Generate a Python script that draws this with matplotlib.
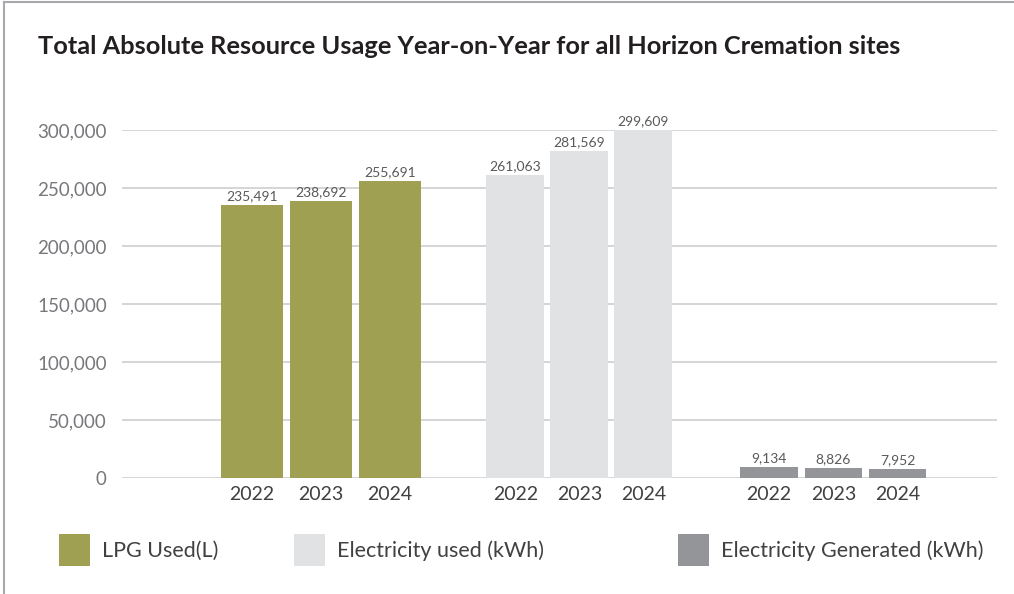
import matplotlib
matplotlib.use("Agg")
from matplotlib import pyplot as plt
from matplotlib.lines import Line2D
from matplotlib.patches import Patch

years = ["2022", "2023", "2024"]
series_names = ["LPG Used(L)", "Electricity used (kWh)", "Electricity Generated (kWh)"]
lpg_used = [235491, 238692, 255691]
electricity_used = [261063, 281569, 299609]
electricity_generated = [9134, 8826, 7952]
y_ticks = [0, 50000, 100000, 150000, 200000, 250000, 300000]

colors = ["#9fa052", "#e1e2e4", "#939598"]
plt.rcParams['font.family'] = ['Lato', 'DejaVu Sans']

fig = plt.figure(figsize=(10.14, 5.94), dpi=100)
ax = fig.add_axes([0.1203, 0.1953, 0.8629, 0.5859])

# layout of the three groups (middle-bar centre, bar spacing, bar width)
group_mid = [3.015, 6.93, 10.78]
bar_step = [1.045, 0.97, 0.975]
bar_width = [0.94, 0.88, 0.87]

tick_pos = []
tick_lab = []
for g, values in enumerate([lpg_used, electricity_used, electricity_generated]):
    xs = [group_mid[g] + (i - 1) * bar_step[g] for i in range(len(values))]
    bars = ax.bar(xs, values, width=bar_width[g], color=colors[g], zorder=3)
    for b, v in zip(bars, values):
        ax.annotate(f"{v:,}", (b.get_x() + b.get_width() / 2, v), xytext=(0, 2),
                    textcoords="offset points", ha="center", va="bottom",
                    fontsize=10, color="#58595b")
    tick_pos += xs
    tick_lab += years

ax.set_xlim(0, 13.26)
ax.set_ylim(0, 300000)
ax.set_yticks(y_ticks)
ax.set_yticklabels([f"{t:,}" for t in y_ticks], fontsize=13.5, color="#77787b")
ax.set_xticks(tick_pos)
ax.set_xticklabels(tick_lab, fontsize=14, color="#414042")
ax.tick_params(axis="both", length=0)
ax.tick_params(axis="y", pad=11)
ax.tick_params(axis="x", pad=6)
ax.grid(axis="y", color="#d1d2d4", linewidth=1.3, zorder=0)
for s in ax.spines.values():
    s.set_visible(False)

fig.text(38 / 1014, 1 - 47 / 594, "Total Absolute Resource Usage Year-on-Year for all Horizon Cremation sites",
         fontsize=18.3, fontweight="bold", color="#231f20", va="center", ha="left")

# legend, one entry at a time to match the uneven spacing
leg_x = [40 / 1014, 275 / 1014, 659 / 1014]
for name, c, lx in zip(series_names, colors, leg_x):
    fig.legend(handles=[Patch(facecolor=c, edgecolor="none")], labels=[name],
               loc="center left", bbox_to_anchor=(lx, 1 - 550 / 594), frameon=False,
               handlelength=1.4, handleheight=1.9, handletextpad=0.6,
               prop={"size": 15.5}, labelcolor="#414042")

# page frame (left and top edges)
fig.add_artist(Line2D([4 / 1014, 4 / 1014], [0, 1 - 1.5 / 594], transform=fig.transFigure,
                      color="#a7a9ac", linewidth=1.5))
fig.add_artist(Line2D([4 / 1014, 1], [1 - 1.5 / 594, 1 - 1.5 / 594], transform=fig.transFigure,
                      color="#a7a9ac", linewidth=1.5))

fig.savefig("out.png", dpi=100)
